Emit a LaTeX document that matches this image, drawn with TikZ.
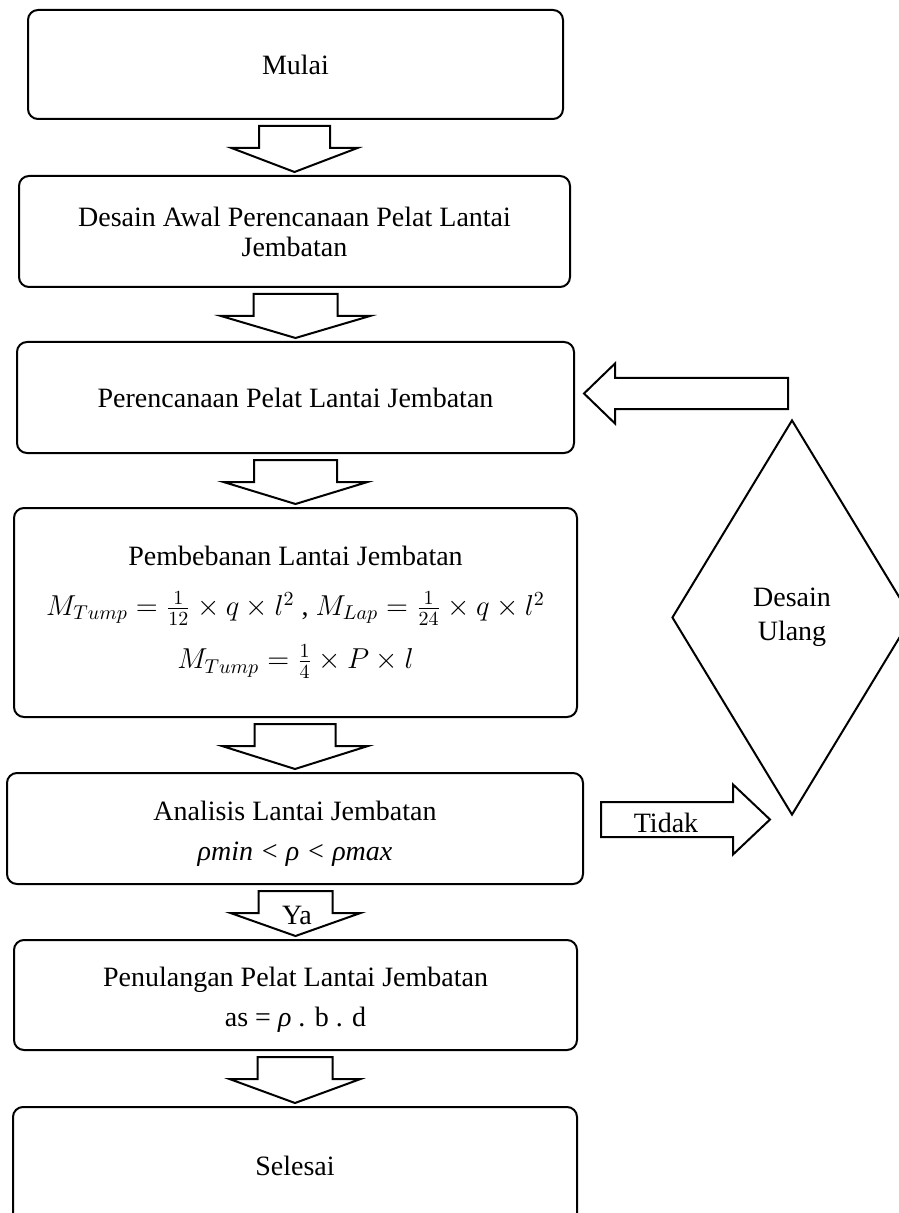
\documentclass[tikz,border=0pt]{standalone}
\usepackage{fontspec}
\setmainfont{Liberation Serif}
\usetikzlibrary{shapes.geometric,calc}
\newcommand\blkdown[4]{%
  \draw[blk] let \p1=(#1.south), \p2=(#2.north) in
    ({\x2-#3*0.5pt},{\y1-3pt}) -- ({\x2+#3*0.5pt},{\y1-3pt}) --
    ({\x2+#3*0.5pt},{\y1-14pt}) -- ({\x2+#4*0.5pt},{\y1-14pt}) --
    (\x2,{\y2+1.5pt}) --
    ({\x2-#4*0.5pt},{\y1-14pt}) -- ({\x2-#3*0.5pt},{\y1-14pt}) -- cycle;}
\begin{document}
\begin{tikzpicture}[x=0.5pt,y=-0.5pt,
  txt/.style={font=\fontsize{14}{15}\selectfont},
  box/.style={draw,line width=1pt,rounded corners=5pt,inner sep=0pt,align=center,txt},
  blk/.style={draw,line width=1pt,fill=white,line join=miter},
  lbl/.style={inner sep=0pt,txt}]
\useasboundingbox (0,0) rectangle (898,1213);

\node[box,minimum width=267.5pt,minimum height=54.5pt] (b1) at (295.5,64.5) {Mulai};
\node[box,minimum width=275.5pt,minimum height=55.5pt] (b2) at (294.5,231.5)
  {Desain Awal Perencanaan Pelat Lantai\\Jembatan};
\node[box,minimum width=278.5pt,minimum height=55.5pt] (b3) at (295.5,397.5)
  {Perencanaan Pelat Lantai Jembatan};
\node[box,minimum width=281.5pt,minimum height=104.5pt] (b4) at (295.5,612.5)
  {Pembebanan Lantai Jembatan\\[10pt]
   $M_{Tump}=\frac{1}{12}\times q\times l^{2}$ , $M_{Lap}=\frac{1}{24}\times q\times l^{2}$\\[8.5pt]
   $M_{Tump}=\frac{1}{4}\times P\times l$};
\node[box,minimum width=288pt,minimum height=55.5pt] (b5) at (295,828.5)
  {\rule{0pt}{15pt}Analisis Lantai Jembatan\\[5pt]\textit{ρmin < ρ < ρmax}};
\node[box,minimum width=281.5pt,minimum height=55pt] (b6) at (295.5,995)
  {\rule{0pt}{14pt}Penulangan Pelat Lantai Jembatan\\[5pt]as = \textit{ρ} . b . d};
\node[box,minimum width=282pt,minimum height=59pt] (b7) at (295,1166) {Selesai};

\node[draw,diamond,line width=1pt,minimum width=120pt,minimum height=197.5pt,
      inner sep=0pt,align=center,txt] (dia) at (792,617.5) {Desain\\[2pt]Ulang};

\blkdown{b1}{b2}{35.5}{63}
\blkdown{b2}{b3}{42}{74.5}
\blkdown{b3}{b4}{41.5}{72}
\blkdown{b4}{b5}{40.5}{73}
\blkdown{b5}{b6}{37}{65}
\blkdown{b6}{b7}{37.5}{65.5}
\node[lbl] (ya) at (297,915) {Ya};

% arrow back from Desain Ulang to Perencanaan
\draw[blk] let \p1=(b3.east), \p2=(dia.north) in
  ({\x2-2pt},{\y1+2pt+7.75pt}) -- ({\x1+20pt},{\y1+2pt+7.75pt}) --
  ({\x1+20pt},{\y1+2pt+15pt}) -- ({\x1+4.5pt},{\y1+2pt}) --
  ({\x1+20pt},{\y1+2pt-15pt}) -- ({\x1+20pt},{\y1+2pt-7.75pt}) --
  ({\x2-2pt},{\y1+2pt-7.75pt}) -- cycle;

% Tidak arrow from Analisis to Desain Ulang
\draw[blk] let \p1=(b5.east), \p2=(dia.south) in
  ({\x1+8.5pt},{\y1+4.5pt+8.75pt}) -- ({\x2-29.5pt},{\y1+4.5pt+8.75pt}) --
  ({\x2-29.5pt},{\y1+4.5pt+17.5pt}) -- ({\x2-11pt},{\y1+4.5pt}) --
  ({\x2-29.5pt},{\y1+4.5pt-17.5pt}) -- ({\x2-29.5pt},{\y1+4.5pt-8.75pt}) --
  ({\x1+8.5pt},{\y1+4.5pt-8.75pt}) -- cycle;
\node[lbl] (tidak) at (666,823) {Tidak};
\end{tikzpicture}
\end{document}
